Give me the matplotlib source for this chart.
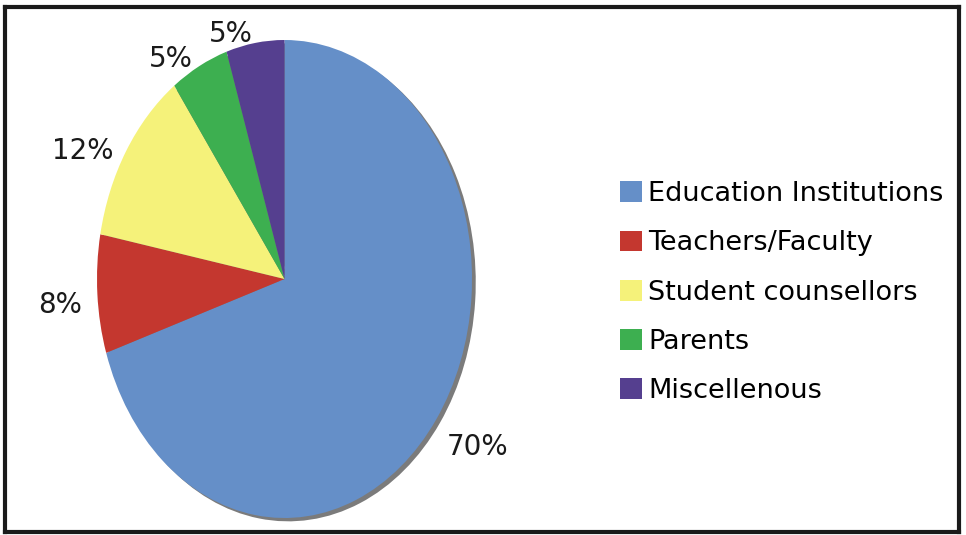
import matplotlib
matplotlib.use("Agg")
import matplotlib.pyplot as plt
from matplotlib.transforms import ScaledTranslation

categories = ["Education Institutions", "Teachers/Faculty", "Student counsellors",
              "Parents", "Miscellenous"]
shares = [70, 8, 12, 5, 5]
pct_labels = ["70%", "8%", "12%", "5%", "5%"]
colors = ["#658fc8", "#c4372f", "#f5f27a", "#3daf50", "#553f8f"]

W, H = 966, 535
fig = plt.figure(figsize=(W / 100, H / 100), dpi=100)
fig.patch.set_facecolor("white")

# outer frame
frame = fig.add_axes([5 / W, 3 / H, 954 / W, 525 / H])
frame.set_xticks([])
frame.set_yticks([])
frame.patch.set_alpha(0)
for sp in frame.spines.values():
    sp.set_linewidth(3)
    sp.set_color("#1a1a1a")

# pie (stretched into an ellipse)
ax = fig.add_axes([97 / W, 17 / H, 375 / W, 478 / H])
ax.pie(shares, colors=["#7b7b7b"] * 5, startangle=90, counterclock=False,
       center=(0.02, -0.014), wedgeprops=dict(linewidth=0))
wedges, texts = ax.pie(shares, colors=colors, startangle=90, counterclock=False,
                       labels=pct_labels, labeldistance=1.08,
                       wedgeprops=dict(linewidth=0),
                       textprops=dict(fontsize=20, color="#1a1a1a"))
ax.set_aspect("auto")
ax.set_xlim(-1, 1)
ax.set_ylim(-1, 1)
ax.axis("off")

# labels sit a little lower in the original
shift = ScaledTranslation(0, -10 / 100, fig.dpi_scale_trans)
for t in texts:
    t.set_transform(t.get_transform() + shift)
texts[0].set_transform(texts[0].get_transform()
                       + ScaledTranslation(-2 / 100, -6 / 100, fig.dpi_scale_trans))

fig.legend(wedges, categories, loc="upper left", bbox_to_anchor=(620 / W, 1 - 181 / H),
           frameon=False, fontsize=19.5, handlelength=0.8, handleheight=0.8,
           handletextpad=0.25, labelspacing=0.86, borderaxespad=0, borderpad=0)

fig.savefig("out.png", dpi=100)
